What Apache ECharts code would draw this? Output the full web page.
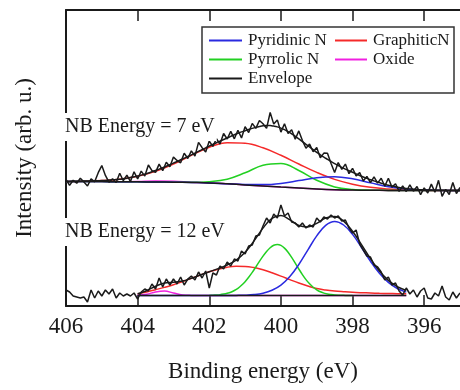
<!DOCTYPE html>
<html>
<head>
<meta charset="utf-8">
<script src="https://cdn.jsdelivr.net/npm/echarts@6/dist/echarts.min.js"></script>
<style>
  html, body { margin: 0; padding: 0; background: #fff; }
  #chart { width: 460px; height: 390px; }
</style>
</head>
<body>
<div id="chart"></div>
<script>
// binding energy grids (eV)
const grid = (start, step, n) => Array.from({ length: n }, (_, i) => +(start + i * step).toFixed(2))
const eData = grid(406, -0.1, 111)   // raw spectra
const eHalf = grid(406, -0.5, 23)    // 7 eV fit components
const eFit = grid(404, -0.25, 31)    // 12 eV fit range
const ePyr = grid(402, -0.1, 41)     // narrow pyrrolic peak, 12 eV

const tickValues = [406, 404, 402, 400, 398, 396]

// NB energy = 7 eV (upper spectrum)
const bg7 = [124.5, 124.5, 124.4, 124.3, 124.2, 124.0, 123.8, 123.5, 123.1, 122.2, 121.1, 120.0, 118.9, 117.9, 117.0, 116.3, 115.9, 115.7, 115.6, 115.5, 115.5, 115.5, 115.5]
const oxide7 = [124.5, 124.5, 124.4, 124.3, 124.5, 125.0, 124.8, 123.8, 123.1, 122.2, 121.1, 120.0, 118.9, 117.9, 117.0, 116.3, 115.9, 115.7, 115.6, 115.5, 115.5, 115.5, 115.5]
const graphitic7 = [124.6, 124.85, 125.4, 126.8, 129.7, 134.6, 141.9, 150.6, 158.7, 163.3, 162.8, 158.2, 150.7, 142.0, 133.6, 126.6, 121.8, 118.7, 117.0, 116.1, 115.7, 115.6, 115.5]
const pyrrolic7 = [124.5, 124.5, 124.4, 124.3, 124.2, 124.0, 123.8, 123.7, 124.3, 126.8, 133.2, 140.7, 142.4, 135.5, 125.7, 119.1, 116.5, 115.8, 115.6, 115.5, 115.5, 115.5, 115.5]
const pyridinic7 = [124.5, 124.5, 124.4, 124.3, 124.2, 124.0, 123.8, 123.5, 123.1, 122.2, 121.5, 121.4, 122.6, 125.4, 128.3, 129.3, 127.2, 123.2, 119.3, 116.9, 115.9, 115.5, 115.5]
const envelope7 = [
  124.6, 124.6, 124.7, 124.7, 124.8, 124.9, 125.0, 125.1, 125.2, 125.3,
  125.4, 125.6, 125.9, 126.2, 126.5, 126.8, 127.3, 127.8, 128.4, 129.2,
  130.0, 130.9, 131.9, 133.0, 134.3, 135.6, 136.9, 138.3, 139.7, 141.3,
  142.9, 144.5, 146.2, 147.8, 149.5, 151.1, 152.9, 154.6, 156.3, 158.1,
  159.9, 161.6, 163.3, 164.9, 166.5, 168.0, 169.6, 171.2, 172.7, 174.1,
  175.3, 176.5, 177.6, 178.6, 179.5, 180.3, 180.6, 180.5, 179.9, 179.1,
  177.9, 176.3, 174.4, 172.2, 169.7, 167.1, 164.4, 161.7, 159.0, 156.3,
  153.6, 151.2, 148.9, 146.7, 144.5, 142.4, 140.5, 138.6, 136.9, 135.3,
  133.7, 132.1, 130.5, 129.0, 127.6, 126.3, 125.1, 123.9, 122.8, 121.7,
  120.7, 119.9, 119.2, 118.6, 118.0, 117.5, 117.1, 116.8, 116.5, 116.3,
  116.1, 116.0, 115.9, 115.8, 115.8, 115.7, 115.6, 115.6, 115.5, 115.5, 115.5
]
const raw7 = [
  126.6, 120.6, 125.7, 122.7, 127.8, 123.9, 120.0, 127.1, 124.2, 133.3,
  140.4, 130.6, 123.9, 127.2, 123.5, 132.8, 125.3, 130.8, 124.4, 134.2,
  127.0, 134.9, 129.9, 141.0, 135.3, 133.6, 141.9, 135.3, 143.7, 139.3,
  148.9, 145.5, 143.2, 152.8, 147.5, 155.1, 149.9, 163.6, 158.3, 154.1,
  164.9, 159.6, 167.3, 161.9, 172.5, 167.0, 174.6, 167.2, 175.7, 168.1,
  179.3, 173.5, 182.6, 177.6, 185.5, 182.3, 177.6, 193.5, 181.9, 186.1,
  173.9, 182.3, 172.4, 176.2, 166.7, 175.1, 165.4, 157.7, 162.0, 154.3,
  158.6, 148.2, 152.9, 152.7, 142.5, 133.4, 143.5, 136.6, 141.9, 132.3,
  137.7, 130.1, 133.5, 125.0, 129.6, 123.3, 129.1, 122.9, 127.8, 119.7,
  127.7, 118.9, 122.2, 114.6, 120.0, 114.5, 121.1, 114.8, 119.5, 111.3,
  118.1, 113.0, 121.9, 113.8, 125.7, 109.6, 116.6, 111.5, 123.5, 112.5, 118.5
]

// NB energy = 12 eV (lower spectrum)
const bg12 = [10.5, 10.5, 10.5, 10.5, 10.5, 10.5, 10.5, 10.5, 10.5, 10.5, 10.5, 10.5, 10.5, 10.5, 10.5, 10.5, 10.5, 10.5, 10.5, 10.5, 10.5, 10.5, 10.5, 10.5, 10.5, 10.5, 10.5, 10.5, 10.5, 10.5, 10.5]
const oxide12 = [10.7, 11.7, 14.0, 14.9, 13.0, 11.1, 10.6, 10.5, 10.5, 10.5, 10.5, 10.5, 10.5, 10.5, 10.5, 10.5, 10.5, 10.5, 10.5, 10.5, 10.5, 10.5, 10.5, 10.5, 10.5, 10.5, 10.5, 10.5, 10.5, 10.5, 10.5]
const graphitic12 = [12.0, 14.1, 16.3, 18.6, 21.2, 24.3, 27.6, 31.0, 34.2, 36.8, 38.8, 39.7, 39.6, 38.4, 36.2, 33.2, 29.9, 26.4, 23.0, 20.0, 17.4, 16.0, 15.0, 14.3, 13.7, 13.3, 13.0, 12.7, 12.5, 12.3, 12.2]
const pyrrolic12 = [
  10.6, 10.8, 11.0, 11.3, 11.9, 12.7, 13.8, 15.5, 17.7, 20.7,
  24.3, 28.7, 33.6, 39.0, 44.6, 49.9, 54.6, 58.3, 60.7, 61.5,
  60.6, 57.9, 53.8, 48.6, 42.9, 37.0, 31.4, 26.4, 22.2, 18.8,
  16.2, 14.2, 12.9, 11.9, 11.4, 11.0, 10.8, 10.7, 10.6, 10.5, 10.5
]
const pyridinic12 = [10.5, 10.5, 10.5, 10.5, 10.5, 10.5, 10.5, 10.5, 10.5, 10.5, 10.5, 10.6, 10.8, 11.4, 12.8, 15.7, 20.9, 29.5, 41.5, 55.9, 70.1, 80.6, 84.5, 81.0, 71.6, 58.5, 44.8, 32.7, 23.6, 17.5, 13.9]
const envelope12 = [12.2, 15.3, 19.8, 23.0, 23.7, 24.9, 27.7, 31.0, 34.3, 37.4, 41.0, 45.8, 53.7, 65.1, 77.9, 87.6, 90.4, 86.2, 80.5, 79.1, 82.7, 88.0, 89.5, 84.9, 74.8, 61.3, 47.3, 34.9, 25.6, 19.3, 15.6]
const raw12 = [
  16, 14, 10, 9, 8, 9, 4, 16, 8, 15,
  10, 16, 12, 17, 8, 13, 10, 12, 10, 13,
  7, 14, 17, 15, 22, 17, 28, 19, 27, 21,
  27, 22, 29, 21, 27, 30, 26, 34, 28, 35,
  18, 33, 31, 40, 37, 44, 40, 47, 45, 55,
  52, 60, 61, 70, 71, 80, 88, 83, 92, 88,
  101, 90, 93, 84, 83, 79, 83, 78, 81, 79,
  88, 84, 89, 87, 91, 88, 90, 85, 86, 78,
  73, 76, 62, 56, 50, 49, 41, 39, 34, 26,
  29, 21, 23, 15, 11, 18, 12, 16, 9, 15,
  18, 8, 7, 13, 10, 20, 9, 6, 14, 8, 13
]

const BLUE = '#2a2ae0'
const GREEN = '#22d022'
const RED = '#f52a2a'
const MAGENTA = '#f020e0'
const INK = '#1a1a1a'
const SERIF = "'Liberation Serif', 'Times New Roman', serif"

const pairs = (xs, ys) => xs.map((x, i) => [x, ys[i]])

const line = (name, xs, ys, color, opts = {}) => Object.assign({
  name: name,
  type: 'line',
  data: pairs(xs, ys),
  color: color,
  symbol: 'none',
  smooth: 0.4,
  lineStyle: { color: color, width: 1.5 },
  emphasis: { disabled: true },
  animation: false,
  z: 2
}, opts)

// components first, black background/envelope/raw data on top
const series = [
  line('Oxide', eHalf, oxide7, MAGENTA),
  line('GraphiticN', eHalf, graphitic7, RED),
  line('Pyrrolic N', eHalf, pyrrolic7, GREEN),
  line('Pyridinic N', eHalf, pyridinic7, BLUE),
  line('bg7', eHalf, bg7, INK, { z: 3 }),
  line('Envelope', eData, envelope7, INK, { z: 3 }),
  line('raw7', eData, raw7, INK, { smooth: false, z: 4 }),

  line('Oxide', eFit, oxide12, MAGENTA),
  line('GraphiticN', eFit, graphitic12, RED),
  line('Pyrrolic N', ePyr, pyrrolic12, GREEN, { smooth: 0.2 }),
  line('Pyridinic N', eFit, pyridinic12, BLUE),
  line('bg12', eFit, bg12, INK, { z: 3 }),
  line('Envelope', eFit, envelope12, INK, { z: 3 }),
  line('raw12', eData, raw12, INK, { smooth: false, z: 4 })
]

const legendBase = {
  orient: 'vertical',
  icon: 'rect',
  itemHeight: 2,
  itemGap: 2,
  selectedMode: false,
  z: 6,
  textStyle: { fontFamily: SERIF, fontSize: 17, color: INK, padding: [0, 0, 0, 1] }
}

const xAxisBase = {
  type: 'value',
  min: 395,
  max: 406,
  inverse: true,
  axisLine: { show: true, onZero: false, lineStyle: { color: INK, width: 2 } },
  axisTick: { show: true, inside: true, length: 11, customValues: tickValues, lineStyle: { color: INK, width: 1.5 } },
  splitLine: { show: false }
}

const chart = echarts.init(document.getElementById('chart'))
const chartOption = {
  animation: false,
  backgroundColor: '#fff',
  grid: { left: 66, right: 0, top: 10, bottom: 84, containLabel: false, outerBoundsMode: 'none' },
  xAxis: [
    Object.assign({}, xAxisBase, {
      position: 'bottom',
      axisLabel: { customValues: tickValues, fontFamily: SERIF, fontSize: 23, color: INK, margin: 9 },
      name: 'Binding energy (eV)',
      nameLocation: 'middle',
      nameGap: 54,
      nameTextStyle: { fontFamily: SERIF, fontSize: 23, color: INK }
    }),
    Object.assign({}, xAxisBase, {
      position: 'top',
      axisLabel: { show: false }
    })
  ],
  yAxis: {
    type: 'value',
    min: 0,
    max: 296,
    axisLine: { show: true, lineStyle: { color: INK, width: 2 } },
    axisTick: { show: false },
    axisLabel: { show: false },
    splitLine: { show: false },
    name: 'Intensity (arb. u.)',
    nameLocation: 'middle',
    nameGap: 30,
    nameRotate: 90,
    nameTextStyle: { fontFamily: SERIF, fontSize: 23, color: INK }
  },
  legend: [
    Object.assign({}, legendBase, { left: 204, top: 27, itemWidth: 33, data: ['Pyridinic N', 'Pyrrolic N', 'Envelope'] }),
    Object.assign({}, legendBase, { left: 330, top: 27, itemWidth: 32, data: ['GraphiticN', 'Oxide'] })
  ],
  graphic: [
    {
      type: 'rect', z: 5,
      shape: { x: 202, y: 27, width: 252, height: 66 },
      style: { fill: '#fff', stroke: '#333', lineWidth: 1.5 }
    },
    {
      type: 'text', z: 10, x: 64, y: 127,
      style: { text: 'NB Energy = 7 eV', font: '20px ' + SERIF, fill: INK, verticalAlign: 'middle', backgroundColor: '#fff', padding: [4, 2, 4, 1] }
    },
    {
      type: 'text', z: 10, x: 64, y: 232,
      style: { text: 'NB Energy = 12 eV', font: '20px ' + SERIF, fill: INK, verticalAlign: 'middle', backgroundColor: '#fff', padding: [4, 2, 4, 1] }
    }
  ],
  series: series
}
chart.setOption(chartOption)
</script>
</body>
</html>
